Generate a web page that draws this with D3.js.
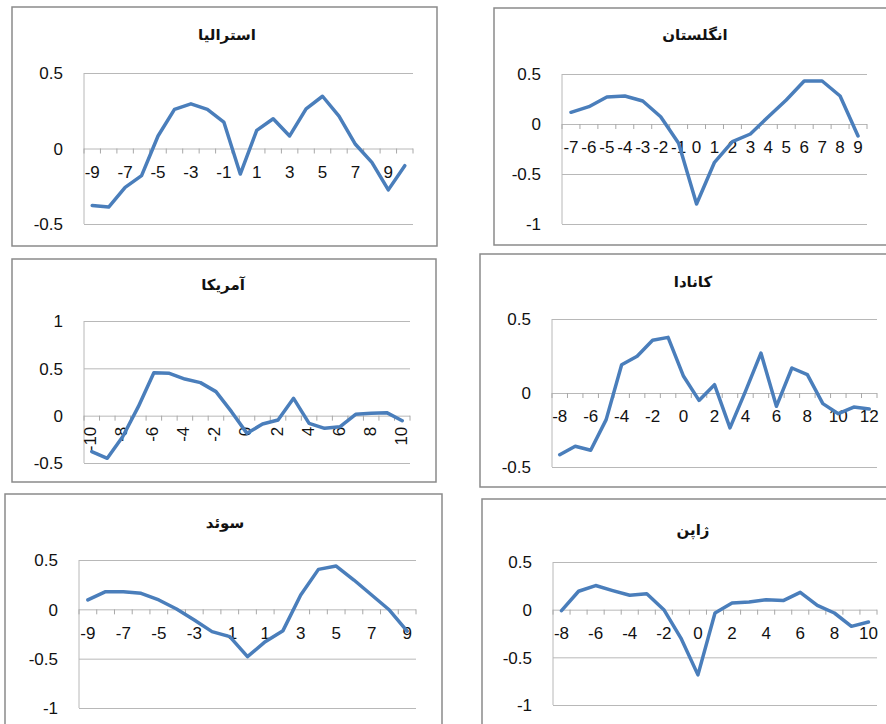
<!DOCTYPE html>
<html>
<head>
<meta charset="utf-8">
<script src="https://cdn.jsdelivr.net/npm/d3@7"></script>
<style>
  body { margin: 0; background: #fff; }
  .frame { fill: none; stroke: #8a8a8a; stroke-width: 1.5; }
  .grid line { stroke: #b8b8b8; stroke-width: 1; }
  .tick-label { font-family: "Liberation Sans", Arial, sans-serif; font-size: 17px; fill: #111; }
  .title { font-family: "DejaVu Sans", sans-serif; font-size: 15px; font-weight: bold; fill: #111; }
  .series { fill: none; stroke: #4a7ebb; stroke-width: 3.5; stroke-linejoin: round; stroke-linecap: round; }
</style>
</head>
<body>
<div id="chart"></div>
<script>
// series, one category per lag

const australiaX = [-9, -8, -7, -6, -5, -4, -3, -2, -1, 0, 1, 2, 3, 4, 5, 6, 7, 8, 9, 10];
const australiaY = [-0.377, -0.388, -0.257, -0.18, 0.083, 0.259, 0.296, 0.259, 0.175, -0.169,
                    0.12, 0.197, 0.083, 0.263, 0.346, 0.215, 0.028, -0.092, -0.274, -0.114];

const englandX = [-7, -6, -5, -4, -3, -2, -1, 0, 1, 2, 3, 4, 5, 6, 7, 8, 9];
const englandY = [0.117, 0.173, 0.27, 0.28, 0.23, 0.073, -0.193, -0.8, -0.383, -0.177,
                  -0.1, 0.073, 0.24, 0.43, 0.43, 0.28, -0.12];

const usaX = [-10, -9, -8, -7, -6, -5, -4, -3, -2, -1, 0, 1, 2, 3, 4, 5, 6, 7, 8, 9, 10];
const usaY = [-0.38, -0.45, -0.22, 0.095, 0.454, 0.447, 0.387, 0.349, 0.254, 0.042, -0.187,
              -0.088, -0.046, 0.183, -0.081, -0.134, -0.116, 0.014, 0.025, 0.032, -0.053];

const canadaX = [-8, -7, -6, -5, -4, -3, -2, -1, 0, 1, 2, 3, 4, 5, 6, 7, 8, 9, 10, 11, 12];
const canadaY = [-0.417, -0.36, -0.387, -0.18, 0.191, 0.248, 0.356, 0.376, 0.113, -0.05, 0.056,
                 -0.236, 0.011, 0.27, -0.09, 0.169, 0.124, -0.072, -0.14, -0.095, -0.108];

const swedenX = [-9, -8, -7, -6, -5, -4, -3, -2, -1, 0, 1, 2, 3, 4, 5, 6, 7, 8, 9];
const swedenY = [0.095, 0.179, 0.179, 0.162, 0.095, 0.003, -0.108, -0.226, -0.277, -0.48,
                 -0.328, -0.216, 0.145, 0.405, 0.439, 0.297, 0.145, -0.007, -0.22];

const japanX = [-8, -7, -6, -5, -4, -3, -2, -1, 0, 1, 2, 3, 4, 5, 6, 7, 8, 9, 10];
const japanY = [-0.01, 0.193, 0.253, 0.2, 0.151, 0.168, 0, -0.298, -0.684, -0.035, 0.07,
                0.081, 0.105, 0.095, 0.182, 0.046, -0.035, -0.175, -0.13];

const ticksHalf = [-0.5, 0, 0.5];
const ticksFromMinus1 = [-1, -0.5, 0, 0.5];
const ticksToPlus1 = [-0.5, 0, 0.5, 1];

const titles = ["استرالیا", "انگلستان", "آمریکا", "کانادا", "سوئد", "ژاپن"];

// panel layout (boxes and plot areas in page pixels)
const panels = [
  {title: titles[0], cats: australiaX, vals: australiaY, ticks: ticksHalf,
   box: [12, 7, 425, 239], plot: [84, 413, 73, 224], titleAt: [227, 35], every: 2},
  {title: titles[1], cats: englandX, vals: englandY, ticks: ticksFromMinus1,
   box: [494, 8, 400, 237], plot: [562, 867, 74, 224], titleAt: [695, 35], every: 1},
  {title: titles[2], cats: usaX, vals: usaY, ticks: ticksToPlus1,
   box: [12, 259, 424, 223], plot: [84, 410, 321, 463], titleAt: [223, 285], every: 2, rotate: true},
  {title: titles[3], cats: canadaX, vals: canadaY, ticks: ticksHalf,
   box: [480, 254, 414, 233], plot: [552, 877, 319, 467], titleAt: [693, 282], every: 2},
  {title: titles[4], cats: swedenX, vals: swedenY, ticks: ticksFromMinus1,
   box: [5, 494, 437, 240], plot: [79, 416, 560, 708], titleAt: [225, 523], every: 2},
  {title: titles[5], cats: japanX, vals: japanY, ticks: ticksFromMinus1,
   box: [482, 499, 412, 235], plot: [553, 877, 562, 705], titleAt: [693, 530], every: 2}
];

const svg = d3.select('#chart')
  .append('svg')
    .attr('width', 886)
    .attr('height', 724);

function drawPanel(p) {
  const g = svg.append('g');
  const [left, right, top, bottom] = p.plot;

  g.append('rect')
    .attr('class', 'frame')
    .attr('x', p.box[0]).attr('y', p.box[1])
    .attr('width', p.box[2]).attr('height', p.box[3]);

  g.append('text')
    .attr('class', 'title')
    .attr('x', p.titleAt[0]).attr('y', p.titleAt[1])
    .attr('text-anchor', 'middle')
    .attr('dominant-baseline', 'middle')
    .attr('direction', 'rtl')
    .text(p.title);

  const x = d3.scaleBand()
    .domain(p.cats)
    .range([left, right]);

  const y = d3.scaleLinear()
    .domain([d3.min(p.ticks), d3.max(p.ticks)])
    .range([bottom, top]);

  // gridlines + y labels (plain hyphen minus like the original)
  const yAxis = g.append('g')
    .attr('class', 'grid')
    .attr('transform', 'translate(' + left + ',0)')
    .call(d3.axisLeft(y)
      .tickValues(p.ticks)
      .tickSize(-(right - left))
      .tickPadding(21)
      .tickFormat(d => String(d)));
  yAxis.select('.domain').remove();
  yAxis.selectAll('text')
    .attr('class', 'tick-label')
    .attr('dy', '0.35em');

  // vertical axis line
  g.append('line')
    .attr('x1', left).attr('x2', left)
    .attr('y1', top).attr('y2', bottom)
    .attr('stroke', '#b8b8b8');

  // category axis at zero, tick marks between categories
  const y0 = y(0);
  const bounds = p.cats.map(c => x(c)).concat([right]);
  g.selectAll('.cat-tick')
    .data(bounds)
    .enter()
    .append('line')
      .attr('x1', d => d).attr('x2', d => d)
      .attr('y1', y0).attr('y2', y0 + 5)
      .attr('stroke', '#a8a8a8');

  const labelled = p.cats.filter((c, i) => i % p.every === 0);
  const lab = g.selectAll('.cat-label')
    .data(labelled)
    .enter()
    .append('text')
      .attr('class', 'tick-label')
      .text(d => String(d));

  if (p.rotate) {
    lab.attr('text-anchor', 'end')
      .attr('dominant-baseline', 'middle')
      .attr('transform', d => 'translate(' + (x(d) + x.bandwidth() / 2) + ',' + (y0 + 11) + ') rotate(-90)');
  } else {
    lab.attr('text-anchor', 'middle')
      .attr('dominant-baseline', 'middle')
      .attr('x', d => x(d) + x.bandwidth() / 2)
      .attr('y', y0 + 25);
  }

  const line = d3.line()
    .x((d, i) => x(p.cats[i]) + x.bandwidth() / 2)
    .y(d => y(d));

  g.append('path')
    .datum(p.vals)
    .attr('class', 'series')
    .attr('d', line);
}

panels.forEach(drawPanel);
</script>
</body>
</html>
